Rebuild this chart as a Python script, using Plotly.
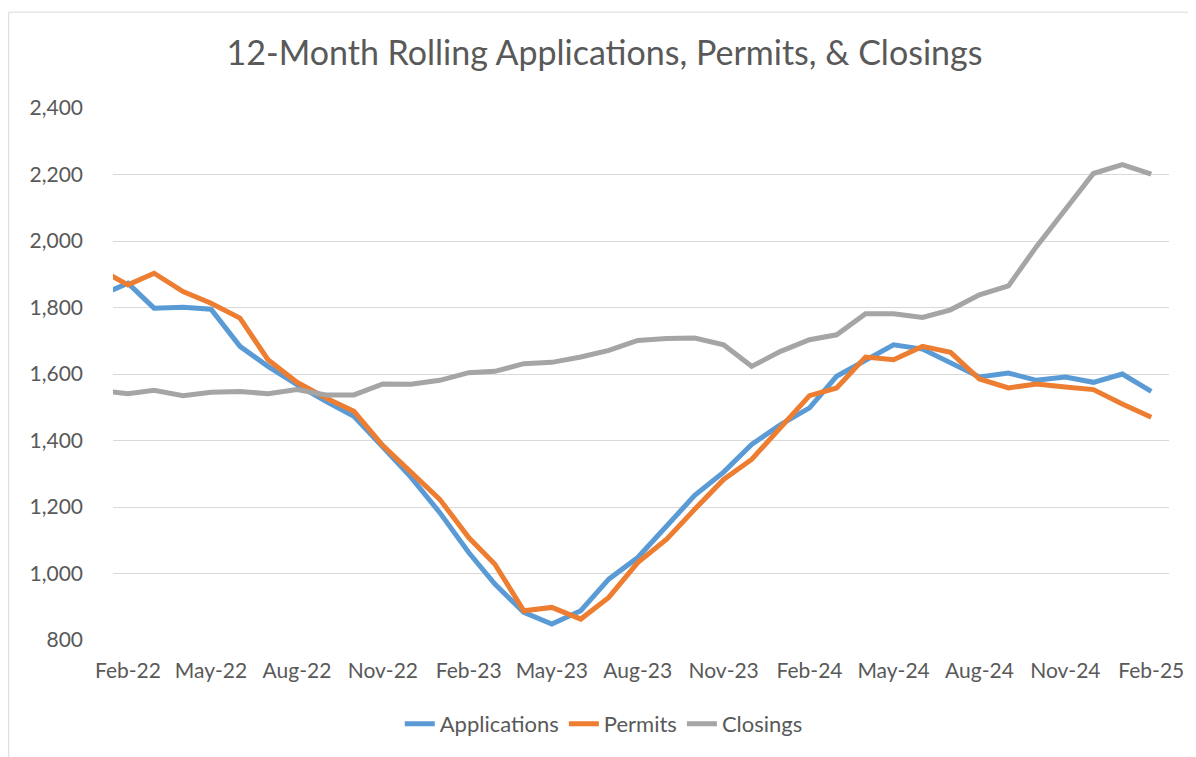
import pandas as pd
import plotly.graph_objects as go

# Monthly dates (Jan-22 is only partially visible at the left edge)
months = pd.date_range("2022-01-01", "2025-02-01", freq="MS")

applications = [1835, 1873, 1798, 1801, 1795, 1683, 1623, 1568, 1518, 1473, 1380, 1290,
                1183, 1063, 968, 883, 848, 888, 983, 1048, 1143, 1235, 1305, 1388,
                1448, 1498, 1593, 1643, 1688, 1675, 1635, 1591, 1603, 1581, 1591, 1575,
                1600, 1548]
permits = [1916, 1868, 1903, 1848, 1813, 1768, 1643, 1575, 1528, 1488, 1385, 1305,
           1223, 1108, 1028, 888, 898, 863, 928, 1033, 1103, 1193, 1283, 1343,
           1440, 1535, 1558, 1651, 1643, 1683, 1665, 1585, 1558, 1570, 1561, 1553,
           1510, 1470]
closings = [1551, 1541, 1551, 1535, 1545, 1547, 1541, 1553, 1537, 1537, 1570, 1569,
            1581, 1604, 1608, 1631, 1635, 1651, 1671, 1701, 1707, 1708, 1688, 1623,
            1668, 1703, 1718, 1781, 1781, 1770, 1793, 1838, 1865, 1983, 2095, 2203,
            2230, 2201]

series_names = ["Applications", "Permits", "Closings"]
series_colors = ["#5B9BD5", "#ED7D31", "#A5A5A5"]

FONT = "Lato"
TEXT = "#595959"
GRID = "#D9D9D9"

fig = go.Figure()
for name, vals, col in zip(series_names, [applications, permits, closings], series_colors):
    fig.add_trace(go.Scatter(x=months, y=vals, mode="lines", name=name,
                             line=dict(color=col, width=5)))

# page has an 8px body margin, so the figure is 8px smaller than the window
OFF = 8
W, H = 1196 - OFF, 757 - OFF
L, R, T, B = 113 - OFF, 1196 - 1176, 108 - OFF, 757 - 641
pw, ph = W - L - R, H - T - B

def px_x(x):  # page pixel -> paper
    return (x - OFF - L) / pw

def px_y(y):
    return (H - B - (y - OFF)) / ph

fig.update_layout(
    width=W, height=H,
    margin=dict(l=L, r=R, t=T, b=B),
    paper_bgcolor="white", plot_bgcolor="white",
    font=dict(family=FONT, color=TEXT, size=21),
    title=dict(text="12-Month Rolling Applications, Permits, & Closings",
               xref="container", yref="container",
               x=(604.5 - OFF) / W, xanchor="center", y=1 - (53 - OFF) / H, yanchor="middle",
               font=dict(size=34, color=TEXT, family=FONT)),
    xaxis=dict(range=["2022-01-16", "2025-02-20"], tick0="2022-02-01", dtick="M3",
               tickformat="%b-%y", showgrid=False, showline=False, zeroline=False,
               ticks="", ticklabelstandoff=16, tickfont=dict(size=21, color=TEXT)),
    yaxis=dict(range=[800, 2400], dtick=200, tickformat=",", showgrid=True,
               gridcolor=GRID, gridwidth=1, zeroline=False, showline=False,
               ticks="", ticklabelstandoff=29, tickfont=dict(size=21, color=TEXT)),
    legend=dict(orientation="h", x=px_x(607), xanchor="center", y=px_y(725), yanchor="middle",
                font=dict(size=22, color=TEXT), itemwidth=30, tracegroupgap=0),
    showlegend=True,
    shapes=[dict(type="rect", xref="paper", yref="paper",
                 x0=px_x(8), x1=px_x(1210), y0=px_y(775), y1=px_y(12),
                 line=dict(color=GRID, width=1), fillcolor="rgba(0,0,0,0)", layer="below")],
)

fig.write_html("out.html")
